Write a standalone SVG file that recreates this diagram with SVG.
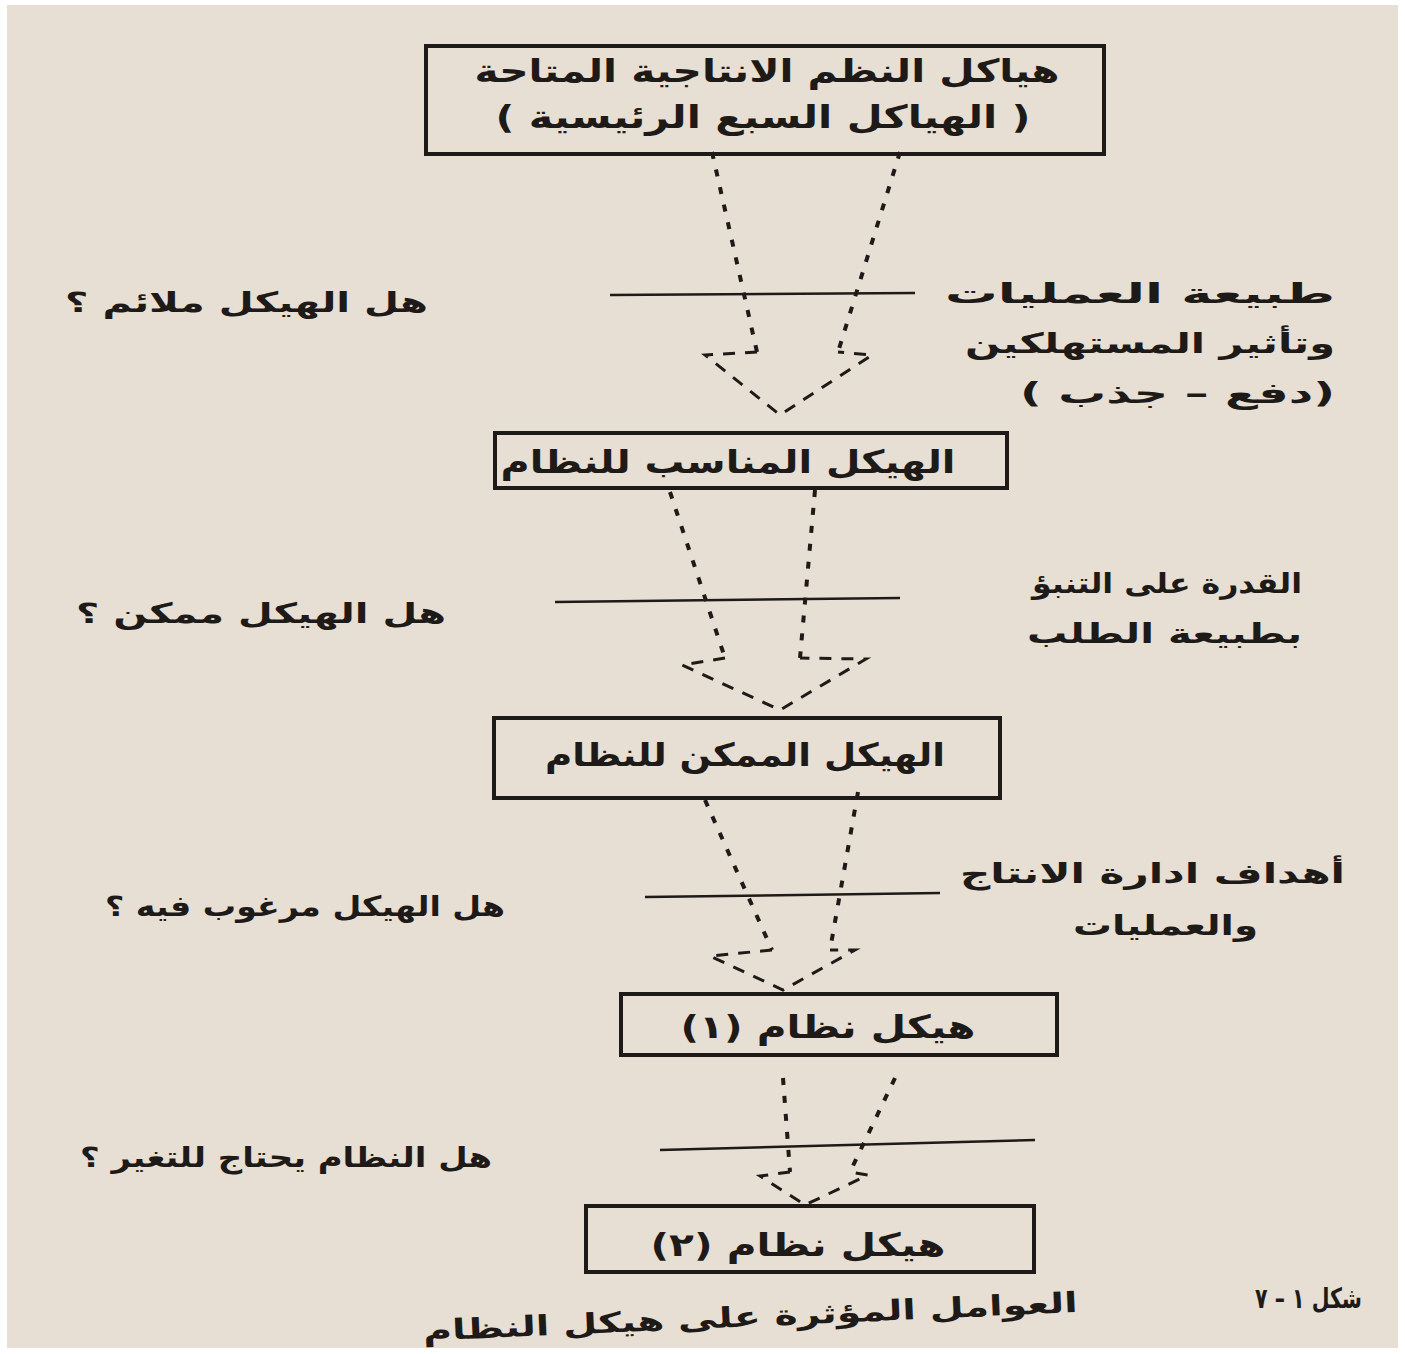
<svg xmlns="http://www.w3.org/2000/svg" width="1405" height="1354" viewBox="0 0 1405 1354">
<style>
.box{fill:none;stroke:#1e1a18;stroke-width:4}
.t{font-family:"DejaVu Sans",sans-serif;font-weight:bold;fill:#1e1a18}
.bt{font-size:32px;text-anchor:middle}
.rt{font-size:28px;direction:rtl;text-anchor:start}
.hl{stroke:#1e1a18;stroke-width:2.5;fill:none}
.sh{stroke:#1e1a18;stroke-width:4;fill:none;stroke-dasharray:7 11}
.hd{stroke:#1e1a18;stroke-width:3;fill:none;stroke-dasharray:12 10}
</style>
<rect x="0" y="0" width="1405" height="1354" fill="#ffffff"/>
<rect x="7" y="5" width="1391" height="1343" fill="#e7ded4"/>

<g id="connectors">
  <!-- arrow 1 -->
  <line class="hl" x1="610" y1="295" x2="915" y2="293"/>
  <path class="sh" d="M712 152 L757 352"/>
  <path class="sh" d="M900 152 L838 352"/>
  <path class="hd" d="M757 352 L705 355 L780 415 L872 355 L838 352"/>
  <!-- arrow 2 -->
  <line class="hl" x1="555" y1="602" x2="900" y2="598"/>
  <path class="sh" d="M670 492 L725 658"/>
  <path class="sh" d="M815 490 L800 658"/>
  <path class="hd" d="M725 658 L682 665 L780 710 L866 659 L800 658"/>
  <!-- arrow 3 -->
  <line class="hl" x1="645" y1="897" x2="940" y2="893"/>
  <path class="sh" d="M705 800 L772 950"/>
  <path class="sh" d="M858 792 L830 950"/>
  <path class="hd" d="M772 950 L710 956 L783 990 L855 950 L830 950"/>
  <!-- arrow 4 -->
  <line class="hl" x1="660" y1="1150" x2="1035" y2="1140"/>
  <path class="sh" d="M783 1078 L790 1172"/>
  <path class="sh" d="M895 1078 L850 1172"/>
  <path class="hd" d="M790 1172 L760 1176 L805 1205 L868 1175 L850 1172"/>
</g>

<g id="n1">
  <rect class="box" x="426" y="46" width="678" height="108"/>
  <text class="t bt" x="767" y="82" textLength="585" lengthAdjust="spacingAndGlyphs">هياكل النظم الانتاجية المتاحة</text>
  <text class="t bt" x="763" y="128" textLength="535" lengthAdjust="spacingAndGlyphs">( الهياكل السبع الرئيسية )</text>
</g>

<g id="n2">
  <rect class="box" x="495" y="433" width="512" height="55"/>
  <text class="t bt" x="728" y="473" textLength="455" lengthAdjust="spacingAndGlyphs">الهيكل المناسب للنظام</text>
</g>

<g id="n3">
  <rect class="box" x="494" y="718" width="506" height="80"/>
  <text class="t bt" x="745" y="766" textLength="400" lengthAdjust="spacingAndGlyphs">الهيكل الممكن للنظام</text>
</g>

<g id="n4">
  <rect class="box" x="621" y="994" width="436" height="61"/>
  <text class="t bt" x="828" y="1038" textLength="295" lengthAdjust="spacingAndGlyphs">هيكل نظام (١)</text>
</g>

<g id="n5">
  <rect class="box" x="586" y="1206" width="448" height="66"/>
  <text class="t bt" x="798" y="1256" textLength="295" lengthAdjust="spacingAndGlyphs">هيكل نظام (٢)</text>
</g>

<g id="labels">
  <text class="t rt" x="1335" y="303" textLength="390" lengthAdjust="spacingAndGlyphs">طبيعة العمليات</text>
  <text class="t rt" x="1335" y="353" textLength="370" lengthAdjust="spacingAndGlyphs">وتأثير المستهلكين</text>
  <text class="t rt" x="1335" y="403" textLength="315" lengthAdjust="spacingAndGlyphs">(دفع – جذب )</text>
  <text class="t rt" x="428" y="312" textLength="363" lengthAdjust="spacingAndGlyphs">هل الهيكل ملائم ؟</text>

  <text class="t rt" x="1302" y="593" textLength="270" lengthAdjust="spacingAndGlyphs">القدرة على التنبؤ</text>
  <text class="t rt" x="1302" y="643" textLength="275" lengthAdjust="spacingAndGlyphs">بطبيعة الطلب</text>
  <text class="t rt" x="446" y="623" textLength="370" lengthAdjust="spacingAndGlyphs">هل الهيكل ممكن ؟</text>

  <text class="t rt" x="1345" y="883" textLength="385" lengthAdjust="spacingAndGlyphs">أهداف ادارة الانتاج</text>
  <text class="t rt" x="1258" y="935" textLength="185" lengthAdjust="spacingAndGlyphs">والعمليات</text>
  <text class="t rt" x="505" y="916" textLength="400" lengthAdjust="spacingAndGlyphs">هل الهيكل مرغوب فيه ؟</text>

  <text class="t rt" x="492" y="1167" textLength="412" lengthAdjust="spacingAndGlyphs">هل النظام يحتاج للتغير ؟</text>

  <text class="t rt" x="1362" y="1308" textLength="107" lengthAdjust="spacingAndGlyphs">شكل ١ – ٧</text>
  <text class="t rt" x="1078" y="1312" textLength="655" lengthAdjust="spacingAndGlyphs" transform="rotate(-2.5 1078 1312)">العوامل المؤثرة على هيكل النظام</text>
</g>
</svg>
